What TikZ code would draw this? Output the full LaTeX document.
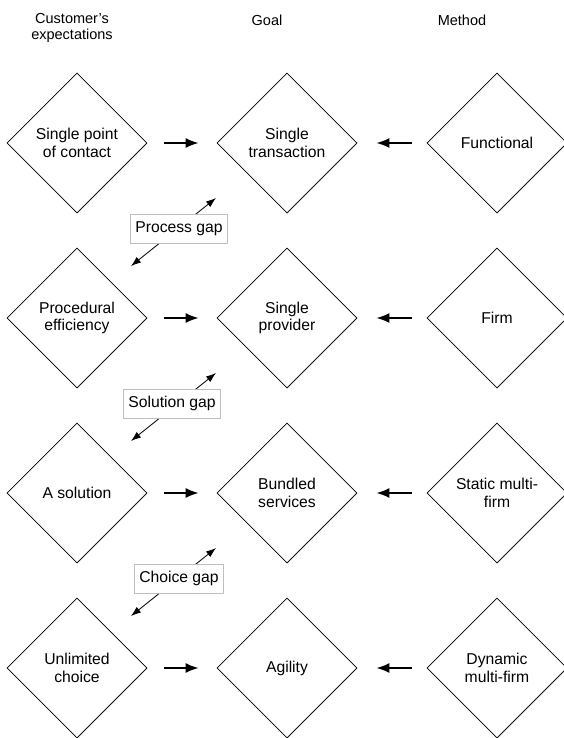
\documentclass[tikz,border=0pt]{standalone}
\usepackage{fontspec}
\setmainfont{Liberation Sans}
\usetikzlibrary{shapes.geometric,arrows.meta,shadows}
\begin{document}
\begin{tikzpicture}[x=1pt,y=-1pt,
  dia/.style={diamond,draw,line width=0.8pt,fill=white,minimum width=140pt,minimum height=140pt,inner sep=0pt,aspect=1,align=center,
    font=\fontsize{15.7}{17.5}\selectfont,
    drop shadow={opacity=0.35,shadow xshift=0.6pt,shadow yshift=-0.8pt}},
  hdr/.style={align=center,font=\fontsize{14.5}{16.5}\selectfont},
  flow/.style={-{Latex[length=13pt,width=10pt]},line width=1.7pt},
  gaparrow/.style={{Latex[length=10pt,width=7pt]}-{Latex[length=10pt,width=7pt]},line width=0.8pt},
  gaplabel/.style={draw=black!25,fill=white,line width=0.6pt,inner xsep=5pt,minimum height=29pt,font=\fontsize{15.7}{17.5}\selectfont}]
\useasboundingbox (0,0) rectangle (563,738);

\node[hdr] (h1) at (72,28) {Customer's\\expectations};
\node[hdr] (h2) at (267,20) {Goal};
\node[hdr] (h3) at (462,20) {Method};

\node[dia] (a1) at (77,143) {Single point\\of contact};
\node[dia] (b1) at (287,143) {Single\\transaction};
\node[dia] (c1) at (497,143) {Functional};

\node[dia] (a2) at (77,318) {Procedural\\efficiency};
\node[dia] (b2) at (287,318) {Single\\provider};
\node[dia] (c2) at (497,318) {Firm};

\node[dia] (a3) at (77,493) {A solution};
\node[dia] (b3) at (287,493) {Bundled\\services};
\node[dia] (c3) at (497,493) {Static multi-\\firm};

\node[dia] (a4) at (77,668) {Unlimited\\choice};
\node[dia] (b4) at (287,668) {Agility};
\node[dia] (c4) at (497,668) {Dynamic\\multi-firm};

\foreach \r in {1,2,3,4}{
  \draw[flow,shorten <=17pt,shorten >=18pt] (a\r.east) -- (b\r.west);
  \draw[flow,shorten <=15pt,shorten >=19pt] (c\r.west) -- (b\r.east);
}

\coordinate (p1) at (131,266); \coordinate (q1) at (216,198);
\coordinate (p2) at (131,441); \coordinate (q2) at (216,373);
\coordinate (p3) at (131,616); \coordinate (q3) at (216,548);
\draw[gaparrow] (p1) -- (q1);
\draw[gaparrow] (p2) -- (q2);
\draw[gaparrow] (p3) -- (q3);
\node[gaplabel] (g1) at (179,228.5) {Process gap};
\node[gaplabel] (g2) at (172,403.5) {Solution gap};
\node[gaplabel] (g3) at (179,578.5) {Choice gap};
\end{tikzpicture}
\end{document}
